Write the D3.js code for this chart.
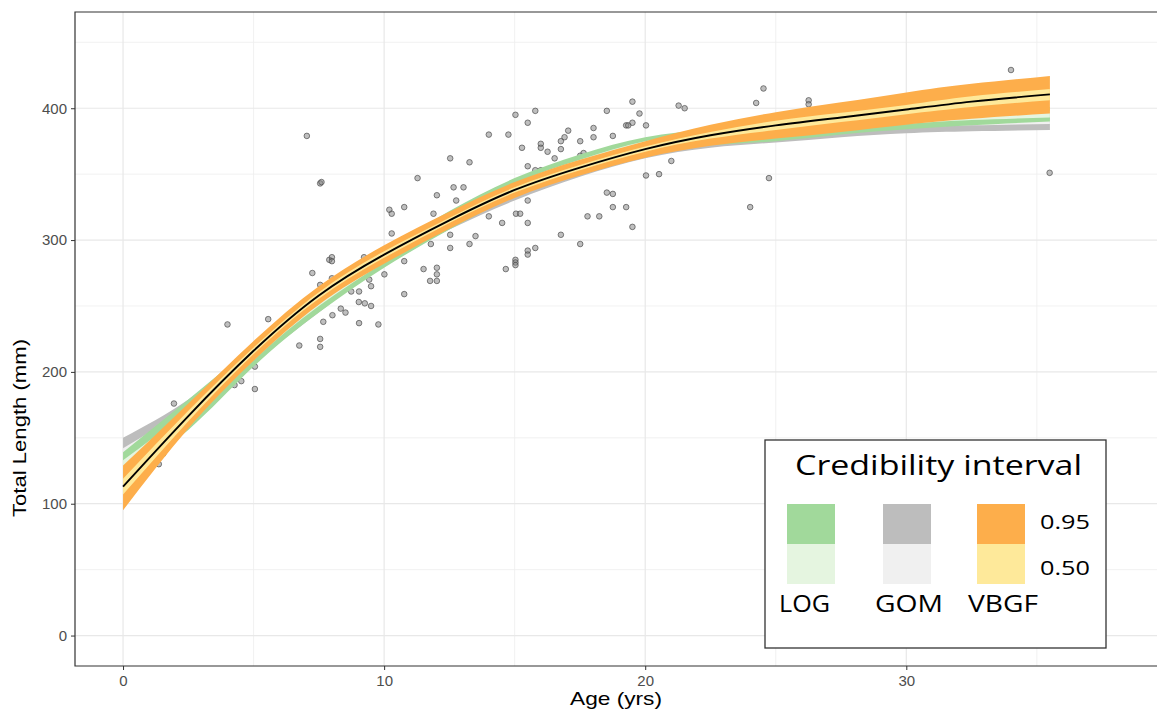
<!DOCTYPE html>
<html><head><meta charset="utf-8">
<script src="https://cdn.jsdelivr.net/npm/d3@7"></script>
<style>body{margin:0;background:#fff}</style>
</head><body>
<svg id="chart" width="1157" height="710"></svg>
<script>
// ---------- data ----------
const xTicks = [0, 10, 20, 30];
const yTicks = [0, 100, 200, 300, 400];
const xTitle = "Age (yrs)";
const yTitle = "Total Length (mm)";
const legendTitle = "Credibility interval";
const modelNames = ["LOG", "GOM", "VBGF"];
const levelNames = ["0.95", "0.50"];

const bandAges = [0, 2.5, 5, 7.5, 10, 12.5, 15, 17.5, 20, 22.5, 25, 27.5, 30, 32.5, 35.5];

const gomLo95 = [126, 162, 206, 245, 281, 308, 330, 348, 362, 370, 374, 378, 381, 382.5, 383.5];
const gomHi95 = [150, 179, 218, 256, 290, 318, 340, 356, 369, 379, 385, 390, 393, 395, 397];
const gomLo50 = [134, 168, 211, 249, 284, 311, 333, 350, 364, 373, 378, 382, 385, 387, 388];
const gomHi50 = [142, 174, 214, 253, 288, 315, 337, 354, 367, 376, 381, 386, 389, 391, 392];

const logLo95 = [121, 156, 204, 245, 279, 308, 333, 351, 366, 372, 375, 380, 384, 387, 390];
const logHi95 = [139, 179, 220, 259, 292, 322, 347, 365, 378, 384, 389, 393, 396, 398, 401];
const logLo50 = [127, 163, 209, 250, 283, 313, 337, 355, 369, 376, 380, 384, 388, 391, 393];
const logHi50 = [133, 171, 215, 254, 288, 317, 343, 361, 375, 381, 385, 389, 392, 395, 398];

const vbMed   = [113, 166.5, 216, 258, 289, 315, 338, 355, 369, 379.5, 387, 393, 399, 405, 410.5];
const vbLo95  = [95, 157, 208.5, 251, 282, 308.5, 332, 349, 362.5, 371.5, 377, 382, 387.5, 392, 396];
const vbHi95  = [129, 176, 223.5, 265, 296, 321.5, 344, 361, 375, 387.5, 397, 404.5, 412, 418.5, 424.5];
const vbLo50  = [107, 162.5, 213.5, 255.5, 286.5, 313, 336, 353, 367, 377, 383.5, 389.5, 395.5, 401, 406];
const vbHi50  = [119, 170.5, 218.5, 260.5, 291.5, 317, 340, 357, 371, 382, 390.5, 396.5, 402.5, 409, 414.5];

const obsAge = [4.0, 5.56, 7.25, 7.55, 7.67, 7.55, 7.55, 6.75, 5.05, 4.53, 4.27, 5.05, 1.37, 1.54, 1.95, 7.9,
  7.04, 7.55, 7.6, 8.0, 8.0, 8.0, 9.23, 8.74, 9.04, 9.43, 9.5, 9.03, 9.26, 9.5, 8.34, 8.52, 8.02, 9.04, 9.78,
  10.01, 10.77, 10.77, 10.29, 10.2, 10.29, 10.77, 11.28, 12.02, 11.89, 12.66, 13.04, 12.76, 12.53, 13.27,
  11.51, 12.02, 12.02, 11.76, 12.02, 11.79, 12.53, 12.53, 13.5, 13.27, 14.01, 14.52, 14.01, 14.76, 15.03,
  15.5, 15.28, 15.5, 15.79, 15.5, 15.05, 15.21, 15.5, 15.5, 15.5, 15.79, 15.03, 15.03, 15.03, 14.66,
  15.79, 16.0, 16.0, 16.26, 16.53, 16.77, 16.77, 16.91, 17.05, 17.51, 17.51, 17.64, 18.02, 18.02, 18.53,
  18.76, 19.27, 19.35, 19.51, 19.51, 19.78, 20.03, 18.53, 18.76, 18.76, 19.27, 17.79, 18.24, 19.51, 16.77,
  17.51, 16.0, 15.66, 20.03, 20.53, 21.0, 21.28, 21.51, 24.02, 24.25, 24.53, 24.74, 26.26, 26.26, 34.01, 35.49];
const obsLen = [236, 240, 275, 266, 238, 225, 219, 220, 204, 193, 190, 187, 130, 138, 176, 285,
  379, 343, 344, 287, 284, 271, 287, 261, 261, 270, 265, 253, 252, 250, 248, 245, 243, 237, 236,
  274, 284, 259, 305, 323, 320, 325, 347, 334, 320, 340, 340, 330, 362, 359,
  278, 279, 274, 269, 269, 297, 304, 294, 303, 297, 318, 313, 380, 380, 395,
  389, 370, 356, 353, 330, 320, 320, 313, 292, 289, 294, 285, 283, 281, 278,
  398, 373, 370, 367, 362, 375, 369, 378, 383, 375, 364, 366, 385, 378, 398,
  379, 387, 387, 389, 405, 396, 387, 336, 335, 325, 325, 318, 318, 310, 304,
  297, 353, 348, 349, 350, 360, 402, 400, 325, 404, 415, 347, 406, 403, 429, 351];

// ---------- layout ----------
const P = {left: 75, top: 12, right: 1170, bottom: 666};
const svg = d3.select("#chart");
const x = d3.scaleLinear().domain([-1.84, 40.1]).range([P.left, P.right]);
const y = d3.scaleLinear().domain([-23.1, 473]).range([P.bottom, P.top]);

const colors = {
  LOG: ["#a1d99b", "#e5f5e0"],
  GOM: ["#bdbdbd", "#f0f0f0"],
  VBGF: ["#fdae4b", "#fee99a"]
};

// grid
const grid = svg.append("g");
const minorX = [5, 15, 25, 35], majorX = [0, 10, 20, 30, 40];
const minorY = [50, 150, 250, 350, 450];
grid.selectAll(".mx").data(minorX).join("line")
  .attr("x1", d => x(d)).attr("x2", d => x(d)).attr("y1", P.top).attr("y2", P.bottom)
  .attr("stroke", "#ededed").attr("stroke-width", 0.8);
grid.selectAll(".my").data(minorY).join("line")
  .attr("y1", d => y(d)).attr("y2", d => y(d)).attr("x1", P.left).attr("x2", P.right)
  .attr("stroke", "#ededed").attr("stroke-width", 0.8);
grid.selectAll(".Mx").data(majorX).join("line")
  .attr("x1", d => x(d)).attr("x2", d => x(d)).attr("y1", P.top).attr("y2", P.bottom)
  .attr("stroke", "#e8e8e8").attr("stroke-width", 1.2);
grid.selectAll(".My").data(yTicks).join("line")
  .attr("y1", d => y(d)).attr("y2", d => y(d)).attr("x1", P.left).attr("x2", P.right)
  .attr("stroke", "#e8e8e8").attr("stroke-width", 1.2);

// observations
const obs = obsAge.map((a, i) => ({a, l: obsLen[i]}));
svg.append("g").selectAll("circle").data(obs).join("circle")
  .attr("cx", d => x(d.a)).attr("cy", d => y(d.l)).attr("r", 2.8)
  .attr("fill", "#808080").attr("fill-opacity", 0.5)
  .attr("stroke", "#444").attr("stroke-opacity", 0.65).attr("stroke-width", 1);

// bands
const curve = d3.curveNatural;
function band(lo, hi, color) {
  const data = bandAges.map((a, i) => ({a, lo: lo[i], hi: hi[i]}));
  const area = d3.area().curve(curve)
    .x(d => x(d.a)).y0(d => y(d.lo)).y1(d => y(d.hi));
  svg.append("path").datum(data).attr("d", area).attr("fill", color);
}
band(gomLo95, gomHi95, colors.GOM[0]);
band(gomLo50, gomHi50, colors.GOM[1]);
band(logLo95, logHi95, colors.LOG[0]);
band(logLo50, logHi50, colors.LOG[1]);
band(vbLo95, vbHi95, colors.VBGF[0]);
band(vbLo50, vbHi50, colors.VBGF[1]);

const medLine = d3.line().curve(curve).x((d, i) => x(bandAges[i])).y(d => y(d));
svg.append("path").datum(vbMed).attr("d", medLine)
  .attr("fill", "none").attr("stroke", "#000").attr("stroke-width", 1.9);

// panel border
svg.append("path")
  .attr("d", `M${P.right},${P.top}H${P.left}V${P.bottom}H${P.right}`)
  .attr("fill", "none").attr("stroke", "#333").attr("stroke-width", 1.2);

// axes
const xAxis = svg.append("g").attr("transform", `translate(0,${P.bottom})`)
  .call(d3.axisBottom(x).tickValues(xTicks).tickSize(4).tickPadding(5));
const yAxis = svg.append("g").attr("transform", `translate(${P.left},0)`)
  .call(d3.axisLeft(y).tickValues(yTicks).tickSize(4).tickPadding(4));
[xAxis, yAxis].forEach(g => {
  g.select(".domain").remove();
  g.selectAll(".tick line").attr("stroke", "#333");
  g.selectAll("text").attr("fill", "#4d4d4d").attr("font-family", "Liberation Sans, Arial, sans-serif")
    .attr("font-size", 15);
});

svg.append("text").attr("x", 616).attr("y", 705).attr("text-anchor", "middle")
  .attr("font-family", "Liberation Sans, Arial, sans-serif").attr("font-size", 19)
  .attr("textLength", 92).attr("lengthAdjust", "spacingAndGlyphs")
  .attr("fill", "#000").text(xTitle);
svg.append("text").attr("transform", "translate(26,428) rotate(-90)").attr("text-anchor", "middle")
  .attr("font-family", "Liberation Sans, Arial, sans-serif").attr("font-size", 18)
  .attr("textLength", 178).attr("lengthAdjust", "spacingAndGlyphs")
  .attr("fill", "#000").text(yTitle);

// legend
const lg = svg.append("g");
lg.append("rect").attr("x", 765).attr("y", 440).attr("width", 341).attr("height", 208)
  .attr("fill", "#fff").attr("stroke", "#333").attr("stroke-width", 1.3);
const lf = "Open Sans, Noto Sans, sans-serif";
lg.append("text").attr("x", 795).attr("y", 475).attr("font-family", lf).attr("font-size", 28)
  .attr("textLength", 287).attr("lengthAdjust", "spacingAndGlyphs").attr("fill", "#000").text(legendTitle);
const swX = [787, 883, 977];
const nameX = [779, 875, 968], nameW = [51, 68, 70];
modelNames.forEach((m, i) => {
  lg.append("rect").attr("x", swX[i]).attr("y", 504).attr("width", 48).attr("height", 40).attr("fill", colors[m][0]);
  lg.append("rect").attr("x", swX[i]).attr("y", 544).attr("width", 48).attr("height", 40).attr("fill", colors[m][1]);
  lg.append("text").attr("x", nameX[i]).attr("y", 612).attr("font-family", lf).attr("font-size", 23)
    .attr("textLength", nameW[i]).attr("lengthAdjust", "spacingAndGlyphs").attr("fill", "#000").text(m);
});
const lvlY = [529, 575];
levelNames.forEach((t, i) => {
  lg.append("text").attr("x", 1040).attr("y", lvlY[i]).attr("font-family", lf).attr("font-size", 20)
    .attr("textLength", 50).attr("lengthAdjust", "spacingAndGlyphs").attr("fill", "#000").text(t);
});
</script>
</body></html>
